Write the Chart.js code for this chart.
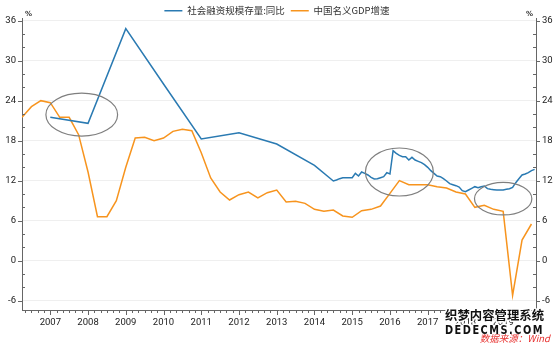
<!DOCTYPE html>
<html><head><meta charset="utf-8">
<script src="https://cdn.jsdelivr.net/npm/chart.js@4/dist/chart.umd.min.js"></script>
<style>html,body{margin:0;padding:0;background:#fff}#wrap{width:554px;height:343px;position:relative}</style>
</head><body><div id="wrap"><canvas id="c" width="554" height="343"></canvas></div>
<script>
const seriesNames = ['社会融资规模存量:同比', '中国名义GDP增速'];
const yearLabels = ['2007','2008','2009','2010','2011','2012','2013','2014','2015','2016','2017','2018','2019'];
const yTickLabels = [-6, 0, 6, 12, 18, 24, 30, 36];

const tsfDates = ['2007-12','2008-12','2009-12','2010-12','2011-12','2012-12','2013-12','2014-12',
 '2015-06','2015-07','2015-08','2015-09','2015-10','2015-11','2015-12',
 '2016-01','2016-02','2016-03','2016-04','2016-05','2016-06','2016-07','2016-08','2016-09','2016-10','2016-11','2016-12',
 '2017-01','2017-02','2017-03','2017-04','2017-05','2017-06','2017-07','2017-08','2017-09','2017-10','2017-11','2017-12',
 '2018-01','2018-02','2018-03','2018-04','2018-05','2018-06','2018-07','2018-08','2018-09','2018-10','2018-11','2018-12',
 '2019-01','2019-02','2019-03','2019-04','2019-05','2019-06','2019-07','2019-08','2019-09','2019-10','2019-11','2019-12',
 '2020-01','2020-02','2020-03','2020-04','2020-05','2020-06','2020-07','2020-08','2020-09','2020-10'];
const tsfValues = [21.5,20.6,34.8,26.5,18.25,19.2,17.5,14.3,
 11.95,12.1,12.3,12.45,12.45,12.45,12.45,
 13.1,12.7,13.3,13.1,12.85,12.5,12.25,12.3,12.45,12.6,13.2,13.0,
 16.5,16.1,15.8,15.6,15.6,15.1,15.5,15.1,14.9,14.7,14.4,14.0,
 13.5,13.1,12.7,12.6,12.3,11.95,11.55,11.4,11.25,11.05,10.5,10.35,
 10.6,10.85,11.1,10.95,11.1,11.2,10.8,10.7,10.65,10.6,10.6,10.6,
 10.7,10.8,11.0,11.7,12.3,12.85,13.0,13.2,13.5,13.7];

const gdpQuarters = ['2007Q1','2007Q2','2007Q3','2007Q4','2008Q1','2008Q2','2008Q3','2008Q4',
 '2009Q1','2009Q2','2009Q3','2009Q4','2010Q1','2010Q2','2010Q3','2010Q4',
 '2011Q1','2011Q2','2011Q3','2011Q4','2012Q1','2012Q2','2012Q3','2012Q4',
 '2013Q1','2013Q2','2013Q3','2013Q4','2014Q1','2014Q2','2014Q3','2014Q4',
 '2015Q1','2015Q2','2015Q3','2015Q4','2016Q1','2016Q2','2016Q3','2016Q4',
 '2017Q1','2017Q2','2017Q3','2017Q4','2018Q1','2018Q2','2018Q3','2018Q4',
 '2019Q1','2019Q2','2019Q3','2019Q4','2020Q1','2020Q2','2020Q3'];
const gdpValues = [21.5,23.1,24.0,23.7, 21.5,21.5,18.9,13.3,
 6.6,6.6,9.0,14.0, 18.4,18.5,18.0,18.4,
 19.4,19.7,19.5,16.2, 12.4,10.3,9.1,9.9,
 10.3,9.4,10.2,10.6, 8.8,8.9,8.6,7.7,
 7.4,7.6,6.7,6.5, 7.5,7.7,8.2,10.1,
 12.0,11.4,11.4,11.4, 11.1,10.9,10.3,10.0,
 8.0,8.3,7.7,7.4, -5.2,3.1,5.5];

// annotation ellipses in data units: [center period, center value, half width (years), half height (%)]
const ellipseCenters = ['2008-10','2017-03','2019-12'];
const ellipseYs = [21.9, 13.3, 9.3];
const ellipseHalfW = [0.95, 0.9, 0.76];
const ellipseHalfH = [3.22, 3.6, 2.44];

function monthPos(s){ const y=+s.slice(0,4), m=+s.slice(5,7); return y + (m-12)/12; }
function quarterPos(s){ const y=+s.slice(0,4), q=+s.slice(5); return y + (3*q-12)/12; }

const BLUE = '#2a7ab2', ORANGE = '#f7941e';
const tickFont = {family:"'Liberation Sans Narrow','Roboto',sans-serif", size:9.5};

const decor = {
  id:'decor',
  beforeInit(chart){
    const lg = chart.legend;
    if (lg && !lg._patched){
      const f = lg.fit.bind(lg);
      lg.fit = function(){ f(); this.height = 18; };
      lg._patched = true;
    }
  },
  afterDraw(chart){
    const ctx = chart.ctx, xs = chart.scales.x, yl = chart.scales.y, yr = chart.scales.y2;
    const a = chart.chartArea;
    ctx.save();
    ctx.strokeStyle = '#666'; ctx.lineWidth = 1;
    ctx.beginPath();
    xs.ticks.forEach(t=>{
      const px = Math.round(xs.getPixelForValue(t.value))+0.5;
      const major = Math.abs(t.value - Math.round(t.value))<1e-6;
      ctx.moveTo(px, a.bottom); ctx.lineTo(px, a.bottom + (major?5:3));
    });
    yl.ticks.forEach(t=>{
      const py = Math.round(yl.getPixelForValue(t.value))+0.5;
      if (t.value % 6 === 0){ ctx.moveTo(a.left-4, py); ctx.lineTo(a.left, py); }
      else { ctx.moveTo(a.left, py); ctx.lineTo(a.left+3, py); }
    });
    yr.ticks.forEach(t=>{
      const py = Math.round(yr.getPixelForValue(t.value))+0.5;
      if (t.value % 6 === 0){ ctx.moveTo(a.right, py); ctx.lineTo(a.right+4, py); }
      else { ctx.moveTo(a.right-3, py); ctx.lineTo(a.right, py); }
    });
    ctx.stroke();
    // % units
    ctx.fillStyle = '#333';
    ctx.font = "bold 7px 'DejaVu Sans',sans-serif";
    ctx.textBaseline = 'middle';
    ctx.textAlign = 'left'; ctx.fillText('%', a.left+3, a.top-4);
    ctx.textAlign = 'right'; ctx.fillText('%', a.right-3, a.top-4);
    // ellipses
    ctx.strokeStyle = '#7f7f7f'; ctx.lineWidth = 1.2;
    ellipseCenters.forEach((c,i)=>{
      const cx = xs.getPixelForValue(monthPos(c));
      const cy = yl.getPixelForValue(ellipseYs[i]);
      const rx = Math.abs(xs.getPixelForValue(monthPos(c)+ellipseHalfW[i]) - cx);
      const ry = Math.abs(yl.getPixelForValue(ellipseYs[i]+ellipseHalfH[i]) - cy);
      ctx.beginPath(); ctx.ellipse(cx, cy, rx, ry, 0, 0, Math.PI*2); ctx.stroke();
    });
    // watermark
    ctx.textAlign = 'left'; ctx.textBaseline = 'alphabetic';
    ctx.lineJoin = 'round';
    ctx.font = "bold 12.5px 'Noto Sans CJK SC',sans-serif";
    ctx.strokeStyle = '#fff'; ctx.lineWidth = 3;
    ctx.strokeText('织梦内容管理系统', 445, 320, 99);
    ctx.fillStyle = '#111'; ctx.fillText('织梦内容管理系统', 445, 320, 99);
    ctx.font = "bold 13px 'DejaVu Sans',sans-serif";
    try { ctx.letterSpacing = '2px'; } catch(e){}
    ctx.strokeText('DEDECMS.COM', 445, 334, 99);
    ctx.fillText('DEDECMS.COM', 445, 334, 99);
    try { ctx.letterSpacing = '0px'; } catch(e){}
    ctx.font = "italic 9.5px 'Noto Sans CJK SC',sans-serif";
    ctx.textAlign = 'right';
    ctx.fillStyle = '#e8312f';
    ctx.fillText('数据来源：Wind', 550, 342);
    ctx.restore();
  }
};

const cfg = {
  type:'line',
  data:{ datasets:[
    { label: seriesNames[0], data: tsfDates.map((d,i)=>({x:monthPos(d), y:tsfValues[i]})),
      borderColor: BLUE, backgroundColor: BLUE, borderWidth:1.5, pointRadius:0, tension:0, yAxisID:'y' },
    { label: seriesNames[1], data: gdpQuarters.map((d,i)=>({x:quarterPos(d), y:gdpValues[i]})),
      borderColor: ORANGE, backgroundColor: ORANGE, borderWidth:1.5, pointRadius:0, tension:0, yAxisID:'y' }
  ]},
  options:{
    responsive:false, animation:false, devicePixelRatio:1,
    layout:{padding:0},
    plugins:{
      legend:{ position:'top', align:'center',
        labels:{ usePointStyle:true, pointStyle:'line', pointStyleWidth:18, boxHeight:9,
          padding:6, color:'#333', font:{family:"'Noto Sans CJK SC',sans-serif", size:9.5} } },
      tooltip:{enabled:false}
    },
    scales:{
      x:{ type:'linear', min:2006.25, max:2019.87,
        afterBuildTicks(s){ const t=[]; for(let m=-8;m<=156;m+=2){ const v=2007+m/12; if(v>=s.min-1e-9 && v<=s.max+1e-9) t.push({value:v}); } s.ticks=t; },
        afterFit(s){ s.height = 33; },
        ticks:{ autoSkip:false, maxRotation:0, padding:2, color:'#222', font:tickFont,
          callback(v){ const r=Math.round(v); if(Math.abs(v-r)<1e-6 && yearLabels.includes(String(r))) return String(r); return ''; } },
        grid:{ drawOnChartArea:false, tickLength:5, tickColor:'transparent' },
        border:{ color:'#666' } },
      y:{ position:'left', min:-7.4, max:36.4,
        afterBuildTicks(s){ const t=[]; for(let v=-6; v<=36; v+=2) t.push({value:v}); s.ticks=t; },
        afterFit(s){ s.width = 22; },
        ticks:{ autoSkip:false, padding:2, color:'#222', font:tickFont,
          callback(v){ return yTickLabels.includes(v) ? String(v) : ''; } },
        grid:{ color(c){ return (c.tick && yTickLabels.includes(c.tick.value)) ? '#efefef' : 'rgba(0,0,0,0)'; }, tickLength:4, tickColor:'transparent' },
        border:{ color:'#666' } },
      y2:{ position:'right', min:-7.4, max:36.4,
        afterBuildTicks(s){ const t=[]; for(let v=-6; v<=36; v+=2) t.push({value:v}); s.ticks=t; },
        afterFit(s){ s.width = 18; },
        ticks:{ autoSkip:false, padding:2, color:'#222', font:tickFont,
          callback(v){ return yTickLabels.includes(v) ? String(v) : ''; } },
        grid:{ drawOnChartArea:false, tickLength:4, tickColor:'transparent' },
        border:{ color:'#666' } }
    }
  },
  plugins:[decor]
};
new Chart(document.getElementById('c'), cfg);
</script></body></html>
